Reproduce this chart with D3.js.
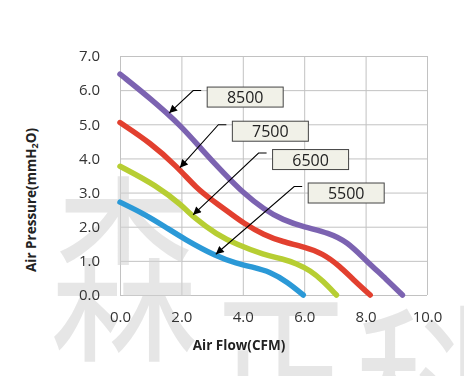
<!DOCTYPE html>
<html>
<head>
<meta charset="utf-8">
<script src="https://cdn.jsdelivr.net/npm/d3@7"></script>
<style>
  body { margin: 0; background: #fff; }
  svg text { font-family: "Open Sans", "DejaVu Sans", sans-serif; }
</style>
</head>
<body>
<div id="chart"></div>
<script>
// fan curves: [air flow CFM, pressure mmH2O]
const rpm8500 = [[0,6.47],[1,5.75],[2,4.95],[2.7,4.22],[3.4,3.55],[4,3.0],[4.7,2.5],[5.3,2.2],[6,1.99],[6.8,1.82],[7.4,1.56],[8,1.02],[8.7,0.44],[9.2,0]];
const rpm7500 = [[0,5.05],[1,4.45],[1.85,3.77],[2.5,3.12],[3,2.78],[3.6,2.39],[4,2.12],[4.7,1.75],[5.3,1.56],[6,1.41],[6.6,1.22],[7.15,0.85],[7.6,0.45],[8.15,0]];
const rpm6500 = [[0,3.77],[1.2,3.2],[2.05,2.6],[2.4,2.27],[3.15,1.77],[3.8,1.48],[4.7,1.17],[5.3,1.06],[5.75,0.92],[6.2,0.72],[6.6,0.42],[7.05,0]];
const rpm5500 = [[0,2.72],[0.8,2.37],[1.5,1.98],[2.05,1.66],[3.15,1.12],[3.8,0.93],[4.3,0.82],[4.9,0.68],[5.45,0.38],[5.97,0]];

const seriesNames = ["8500", "7500", "6500", "5500"];
const xTicks = [0, 2, 4, 6, 8, 10];
const yTicks = [0, 1, 2, 3, 4, 5, 6, 7];

// where the arrow hits the curve (x in CFM) and where the label box sits (data units)
const tipX = [1.6, 1.95, 2.38, 3.12];
const boxX = [2.84, 3.66, 4.97, 6.13];
const boxY = [6.09, 5.09, 4.26, 3.28];

function getConfig(){
  let width = 464;
  let height = 376;
  let margin = { top: 56, bottom: 81, left: 120, right: 37 };
  let bodyWidth = width - margin.left - margin.right;
  let bodyHeight = height - margin.top - margin.bottom;
  let container = d3.select("#chart").append("svg")
    .attr("width", width)
    .attr("height", height);
  return {width, height, margin, bodyWidth, bodyHeight, container};
}

function getScales(config){
  let {margin, bodyWidth, bodyHeight} = config;
  let xScale = d3.scaleLinear().domain([0, 10]).range([margin.left, margin.left + bodyWidth]);
  let yScale = d3.scaleLinear().domain([0, 7]).range([margin.top + bodyHeight, margin.top]);
  return {xScale, yScale};
}

// linear lookup on a curve, used for the arrow tips
function valueAt(data, x){
  for (let i = 1; i < data.length; i++){
    if (x <= data[i][0]){
      let a = data[i-1], b = data[i];
      return a[1] + (b[1] - a[1]) * (x - a[0]) / (b[0] - a[0]);
    }
  }
  return data[data.length-1][1];
}

function drawChart(){
  let config = getConfig();
  let {container, margin, bodyWidth, bodyHeight, width, height} = config;
  let {xScale, yScale} = getScales(config);

  container.append("rect").attr("width", width).attr("height", height).attr("fill", "#fff");

  // grid
  container.append("g")
    .attr("transform", "translate(0," + (margin.top + bodyHeight) + ")")
    .call(d3.axisBottom(xScale).tickValues(xTicks).tickSize(-bodyHeight).tickFormat(""))
    .call(g => g.select(".domain").remove())
    .selectAll("line").attr("stroke", "#c2c2c2");
  container.append("g")
    .attr("transform", "translate(" + margin.left + ",0)")
    .call(d3.axisLeft(yScale).tickValues(yTicks).tickSize(-bodyWidth).tickFormat(""))
    .call(g => g.select(".domain").remove())
    .selectAll("line").attr("stroke", "#c2c2c2");

  // watermark, faint, behind the curves
  let wm = container.append("g")
    .attr("fill", "#d2d2d2").attr("opacity", 0.55)
    .style("pointer-events", "none");
  [["森", 50, 345, 200], ["正", 212, 445, 185], ["科", 356, 462, 185]].forEach(c => {
    wm.append("text")
      .attr("transform", "translate(" + c[1] + "," + c[2] + ")scale(0.74,1)")
      .attr("font-size", c[3])
      .style("font-family", "Noto Sans CJK SC")
      .text(c[0]);
  });

  // tick labels
  container.append("g")
    .attr("transform", "translate(0," + (margin.top + bodyHeight) + ")")
    .call(d3.axisBottom(xScale).tickValues(xTicks).tickSize(0).tickPadding(16).tickFormat(d3.format(".1f")))
    .call(g => g.select(".domain").remove())
    .selectAll("text").attr("font-size", 15).attr("fill", "#333").style("font-family", "Open Sans");
  container.append("g")
    .attr("transform", "translate(" + margin.left + ",0)")
    .call(d3.axisLeft(yScale).tickValues(yTicks).tickSize(0).tickPadding(20).tickFormat(d3.format(".1f")))
    .call(g => g.select(".domain").remove())
    .selectAll("text").attr("font-size", 15).attr("fill", "#333").style("font-family", "Open Sans");

  // axis titles
  container.append("text")
    .attr("x", 239).attr("y", 350)
    .attr("text-anchor", "middle")
    .attr("font-size", 13.5).attr("font-weight", "bold").attr("fill", "#222")
    .text("Air Flow(CFM)");
  let yTitle = container.append("text")
    .attr("transform", "translate(36,200)rotate(-90)")
    .attr("text-anchor", "middle")
    .attr("font-size", 13.5).attr("font-weight", "bold").attr("fill", "#222");
  yTitle.append("tspan").text("Air Pressure(mmH");
  yTitle.append("tspan").attr("font-size", 9).attr("dy", 2).text("2");
  yTitle.append("tspan").attr("dy", -2).text("O)");

  // curves
  let allSeries = [rpm8500, rpm7500, rpm6500, rpm5500];
  let colors = ["#7c63b1", "#e2402f", "#b7ce33", "#2b99d7"];
  let line = d3.line()
    .x(d => xScale(d[0]))
    .y(d => yScale(d[1]))
    .curve(d3.curveBasis);

  container.selectAll(".curve")
    .data(allSeries)
    .enter()
    .append("path")
      .attr("class", "curve")
      .attr("d", line)
      .attr("fill", "none")
      .attr("stroke", (d, i) => colors[i])
      .attr("stroke-width", 5.5)
      .attr("stroke-linecap", "round");

  // arrowhead
  container.append("defs").append("marker")
    .attr("id", "arrow")
    .attr("viewBox", "0 0 10 10")
    .attr("refX", 10).attr("refY", 5)
    .attr("markerWidth", 10).attr("markerHeight", 8)
    .attr("markerUnits", "userSpaceOnUse")
    .attr("orient", "auto")
    .append("path").attr("d", "M0,0L10,5L0,10z").attr("fill", "#000");

  // labels with leader lines
  seriesNames.forEach((name, i) => {
    let bx = xScale(boxX[i]), by = yScale(boxY[i]);
    let tx = xScale(tipX[i]), ty = yScale(valueAt(allSeries[i], tipX[i])) - 2;
    container.append("path")
      .attr("d", "M" + (bx - 6) + "," + (by + 3.5) + "H" + (bx - 14) + "L" + tx + "," + ty)
      .attr("fill", "none")
      .attr("stroke", "#000")
      .attr("stroke-width", 1.1)
      .attr("marker-end", "url(#arrow)");
    container.append("rect")
      .attr("x", bx).attr("y", by)
      .attr("width", 76).attr("height", 20)
      .attr("fill", "#f1f1e8")
      .attr("stroke", "#444").attr("stroke-width", 1);
    container.append("text")
      .attr("x", bx + 38).attr("y", by + 16)
      .attr("text-anchor", "middle")
      .attr("font-size", 16).attr("fill", "#222")
      .text(name);
  });
}

drawChart();
</script>
</body>
</html>
